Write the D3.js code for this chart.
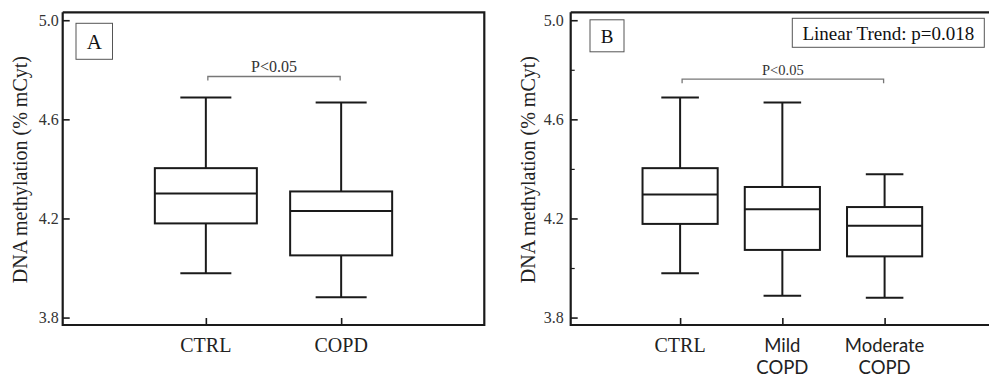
<!DOCTYPE html>
<html>
<head>
<meta charset="utf-8">
<script src="https://cdn.jsdelivr.net/npm/d3@7"></script>
<style>
  body { margin: 0; background: #fff; }
  svg { display: block; }
</style>
</head>
<body>
<div id="chart-area"><svg></svg></div>
<script>
// panel A: CTRL vs COPD
const groupsA = ["CTRL", "COPD"];
const lowA = [3.979, 3.882];
const q1A = [4.180, 4.051];
const medA = [4.301, 4.230];
const q3A = [4.403, 4.309];
const highA = [4.688, 4.668];

// panel B: CTRL vs COPD severity
const groupsB = ["CTRL", "Mild COPD", "Moderate COPD"];
const lowB = [3.979, 3.888, 3.880];
const q1B = [4.178, 4.073, 4.047];
const medB = [4.297, 4.237, 4.171];
const q3B = [4.403, 4.327, 4.246];
const highB = [4.688, 4.668, 4.378];

const yTicks = [3.8, 4.2, 4.6, 5.0];
const yMinorTicks = [4.0, 4.4, 4.8];
const yDomain = [3.77, 5.032];

const SERIF = "'Liberation Serif', 'Times New Roman', serif";
const SANS = "Lato, 'Open Sans', sans-serif";

const svg = d3.select("#chart-area svg").attr("width", 989).attr("height", 377);
const ink = "#1a1a1a";

const label = (sel, family, size, fill) =>
  sel.style("font-family", family).style("font-size", size + "px").style("fill", fill || "#222");

const drawPanel = opts => {
  const g = svg.append("g");
  const y = d3.scaleLinear().domain(yDomain).range([325, 12.3]);
  const x = d3.scalePoint().domain(opts.groups).range(opts.xRange).padding(opts.padding);
  const [x0, x1] = opts.xRange;

  // y axis, ticks pointing inward
  const yAxis = d3.axisLeft(y).tickValues(yTicks).tickFormat(d3.format(".1f"))
    .tickSizeInner(-7).tickSizeOuter(0).tickPadding(opts.tickPad);
  const ya = g.append("g").attr("transform", `translate(${x0},0)`).call(yAxis);
  ya.select(".domain").remove();
  ya.selectAll("line").attr("stroke", ink).attr("stroke-width", 1.6);
  label(ya.selectAll("text"), SERIF, 16, "#333");

  if (opts.minor) {
    const ym = g.append("g").attr("transform", `translate(${x0},0)`)
      .call(d3.axisLeft(y).tickValues(yMinorTicks).tickFormat("").tickSizeInner(-4).tickSizeOuter(0));
    ym.select(".domain").remove();
    ym.selectAll("line").attr("stroke", ink).attr("stroke-width", 1.2);
  }

  const xa = g.append("g").attr("transform", `translate(0,${y.range()[0]})`)
    .call(d3.axisBottom(x).tickFormat("").tickSizeInner(-7).tickSizeOuter(0));
  xa.select(".domain").remove();
  xa.selectAll("line").attr("stroke", ink).attr("stroke-width", 1.6);

  // frame
  const frame = d3.path();
  frame.moveTo(x0, y.range()[1]);
  frame.lineTo(x0, y.range()[0]);
  frame.lineTo(x1, y.range()[0]);
  if (opts.rightBorder) frame.lineTo(x1, y.range()[1]);
  else frame.moveTo(x1, y.range()[1]);
  frame.lineTo(x0, y.range()[1]);
  g.append("path").attr("d", frame.toString()).attr("fill", "none")
    .attr("stroke", ink).attr("stroke-width", 2.2);

  // boxes
  const boxW = x.step() * opts.boxFrac;
  const capW = boxW / 2;
  const boxes = g.selectAll(".box").data(opts.groups.map((k, i) => ({
    k, lo: opts.low[i], q1: opts.q1[i], med: opts.med[i], q3: opts.q3[i], hi: opts.high[i]
  }))).enter().append("g").attr("class", "box")
    .attr("stroke", ink).attr("stroke-width", 2).attr("fill", "none");

  boxes.append("line").attr("x1", d => x(d.k)).attr("x2", d => x(d.k))
    .attr("y1", d => y(d.hi)).attr("y2", d => y(d.q3));
  boxes.append("line").attr("x1", d => x(d.k)).attr("x2", d => x(d.k))
    .attr("y1", d => y(d.q1)).attr("y2", d => y(d.lo));
  boxes.append("line").attr("x1", d => x(d.k) - capW / 2).attr("x2", d => x(d.k) + capW / 2)
    .attr("y1", d => y(d.hi)).attr("y2", d => y(d.hi));
  boxes.append("line").attr("x1", d => x(d.k) - capW / 2).attr("x2", d => x(d.k) + capW / 2)
    .attr("y1", d => y(d.lo)).attr("y2", d => y(d.lo));
  boxes.append("rect").attr("x", d => x(d.k) - boxW / 2).attr("width", boxW)
    .attr("y", d => y(d.q3)).attr("height", d => y(d.q1) - y(d.q3));
  boxes.append("line").attr("x1", d => x(d.k) - boxW / 2).attr("x2", d => x(d.k) + boxW / 2)
    .attr("y1", d => y(d.med)).attr("y2", d => y(d.med));

  // category labels (two-line labels use the sans face, like the source)
  opts.groups.forEach((k, i) => {
    const lines = opts.labelLines[i];
    lines.forEach((s, j) => {
      const t = g.append("text").attr("text-anchor", "middle")
        .attr("x", x(k)).attr("y", 351.5 + j * 22).text(s);
      if (lines.length > 1) label(t, SANS, 18.5);
      else label(t, SERIF, 20);
    });
  });

  // y label
  label(g.append("text"), SERIF, 20)
    .attr("text-anchor", "middle")
    .attr("transform", `translate(${x0 - 35.5},${(y.range()[0] + y.range()[1]) / 2 + 1}) rotate(-90)`)
    .text("DNA methylation (% mCyt)");

  // significance bracket
  const [ga, gb] = opts.bracket;
  const by = y(opts.bracketY);
  const bx0 = x(ga) + 2, bx1 = x(gb) - 1;
  g.append("path").attr("d", `M${bx0},${by + 4}V${by}H${bx1}V${by + 4}`)
    .attr("fill", "none").attr("stroke", "#777").attr("stroke-width", 1.3);
  label(g.append("text"), SERIF, opts.pFont, "#333")
    .attr("text-anchor", "middle").attr("x", (bx0 + bx1) / 2).attr("y", by - 4)
    .text("P<0.05");

  // panel letter
  const lb = opts.letterBox;
  g.append("rect").attr("x", x0 + lb[0]).attr("y", y.range()[1] + lb[1])
    .attr("width", lb[2]).attr("height", lb[3])
    .attr("fill", "none").attr("stroke", "#555").attr("stroke-width", 1);
  label(g.append("text"), SERIF, opts.letterFont, "#111")
    .attr("text-anchor", "middle").attr("dominant-baseline", "central")
    .attr("x", x0 + lb[0] + lb[2] / 2).attr("y", y.range()[1] + lb[1] + lb[3] / 2 + 1)
    .text(opts.letter);

  return g;
};

drawPanel({
  groups: groupsA, low: lowA, q1: q1A, med: medA, q3: q3A, high: highA,
  xRange: [62.7, 484.3], padding: 1.058, boxFrac: 0.754, tickPad: 4,
  minor: false, rightBorder: true,
  labelLines: [["CTRL"], ["COPD"]],
  bracket: ["CTRL", "COPD"], bracketY: 4.773, pFont: 16,
  letter: "A", letterBox: [13.3, 11, 36.5, 36], letterFont: 21
});

const gB = drawPanel({
  groups: groupsB, low: lowB, q1: q1B, med: medB, q3: q3B, high: highB,
  xRange: [570.7, 994], padding: 1.07, boxFrac: 0.735, tickPad: 7,
  minor: true, rightBorder: false,
  labelLines: [["CTRL"], ["Mild", "COPD"], ["Moderate", "COPD"]],
  bracket: ["CTRL", "Moderate COPD"], bracketY: 4.762, pFont: 14.5,
  letter: "B", letterBox: [19.3, 7.5, 34, 32], letterFont: 19
});

// linear trend annotation
gB.append("rect").attr("x", 792.3).attr("y", 18.3).attr("width", 192).attr("height", 29)
  .attr("fill", "#fff").attr("stroke", "#555").attr("stroke-width", 1);
label(gB.append("text"), SERIF, 19, "#111")
  .attr("text-anchor", "middle").attr("dominant-baseline", "central")
  .attr("x", 792.3 + 96).attr("y", 33.5)
  .text("Linear Trend: p=0.018");
</script>
</body>
</html>
